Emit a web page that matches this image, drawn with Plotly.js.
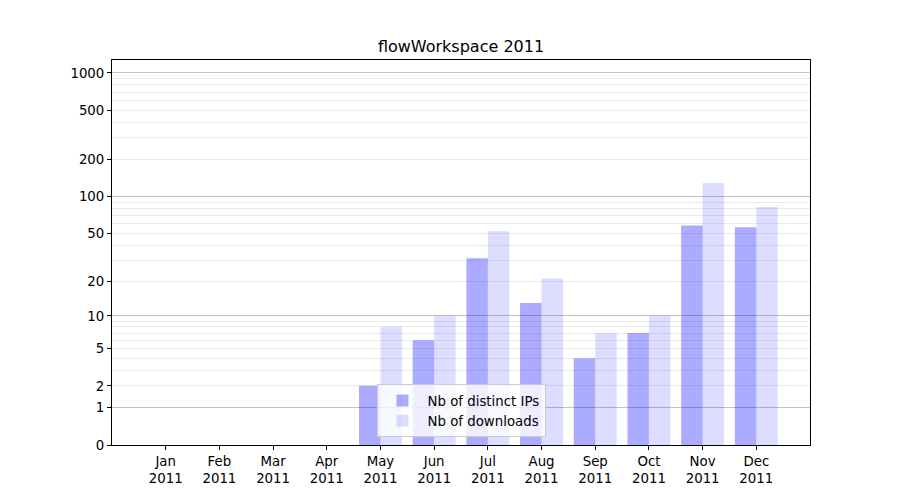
<!DOCTYPE html>
<html>
<head>
<meta charset="utf-8">
<script src="https://cdn.plot.ly/plotly-3.0.1.min.js"></script>
<style>html,body{margin:0;padding:0;background:#fff;}#chart{width:900px;height:500px;}</style>
</head>
<body>
<div id="chart"></div>
<script>
const months = ['Jan','Feb','Mar','Apr','May','Jun','Jul','Aug','Sep','Oct','Nov','Dec'];
const year = '2011';
const distinctIPs = [0,0,0,0,2,6,31,13,4,7,58,56];
const downloads   = [0,0,0,0,8,10,52,21,7,10,129,82];
const yTickLabels = [0,1,2,5,10,20,50,100,200,500,1000];
const yMajorGrid  = [1,10,100,1000];
const yMinorGrid  = [2,3,4,5,6,7,8,9,20,30,40,50,60,70,80,90,200,300,400,500,600,700,800,900];

const xLabels = months.map(m => m + '<br>' + year);
const shift = v => v + 1; // log(x+1) scale

const font = {family: 'DejaVu Sans, sans-serif', size: 13.33, color: '#000'};

const traces = [
  {type:'bar', name:'Nb of distinct IPs', x:xLabels, y:distinctIPs.map(shift),
   marker:{color:'rgba(0,0,255,0.33)', line:{width:0}}, hoverinfo:'skip'},
  {type:'bar', name:'Nb of downloads', x:xLabels, y:downloads.map(shift),
   marker:{color:'rgba(0,0,255,0.135)', line:{width:0}}, hoverinfo:'skip'},
  {type:'scatter', x:[xLabels[0]], y:[1], yaxis:'y2', mode:'markers',
   marker:{opacity:0}, showlegend:false, hoverinfo:'skip'}
];

const yRange = [0, 3.105];

const layout = {
  width:900, height:500,
  margin:{l:112, r:90, t:60, b:55},
  paper_bgcolor:'#fff', plot_bgcolor:'#fff',
  font: font,
  title:{text:'flowWorkspace 2011', font:{family:'DejaVu Sans, sans-serif', size:16, color:'#000'},
         x:0.5, xref:'paper', y:1, yref:'paper', yanchor:'bottom', pad:{b:8}},
  barmode:'group', bargap:0.2, bargroupgap:0,
  showlegend:true,
  legend:{x:0.5, xanchor:'center', y:0.02, yanchor:'bottom', bgcolor:'rgba(255,255,255,0.8)',
          bordercolor:'#cccccc', borderwidth:1, font:{family:'DejaVu Sans, sans-serif', size:13.33, color:'#000'},
          traceorder:'normal', itemwidth:40, tracegroupgap:0},
  xaxis:{type:'category', range:[-1, 12], showgrid:false, zeroline:false,
         showline:true, linecolor:'#000', linewidth:1, mirror:true,
         ticks:'outside', ticklen:4, tickcolor:'#000', tickfont:font},
  yaxis:{type:'log', range:yRange, autorange:false,
         tickvals: yTickLabels.map(shift), ticktext: yTickLabels.map(String),
         showgrid:false, zeroline:false,
         showline:true, linecolor:'#000', linewidth:1, mirror:true,
         ticks:'outside', ticklen:4, tickcolor:'#000', tickfont:font,
         minor:{tickvals: yMinorGrid.map(shift), showgrid:true, gridcolor:'#ebebeb', gridwidth:1, ticks:''}},
  yaxis2:{type:'log', range:yRange, autorange:false, overlaying:'y', side:'left',
          tickvals: yMajorGrid.map(shift), showticklabels:false, ticks:'',
          showgrid:true, gridcolor:'#c4c4c4', gridwidth:1, zeroline:false, showline:false}
};

Plotly.newPlot('chart', traces, layout, {displayModeBar:false, staticPlot:true});
</script>
</body>
</html>
